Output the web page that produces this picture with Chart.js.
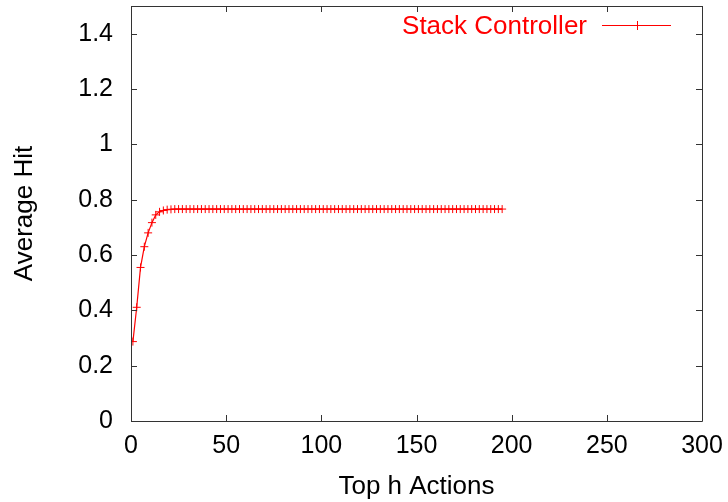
<!DOCTYPE html>
<html>
<head>
<meta charset="utf-8">
<script src="https://cdn.jsdelivr.net/npm/chart.js@4/dist/chart.umd.min.js"></script>
<style>
  html, body { margin: 0; padding: 0; background: #fff; }
  #wrap { width: 728px; height: 502px; }
</style>
</head>
<body>
<div id="wrap"><canvas id="hitChart" width="728" height="502"></canvas></div>
<script>
const FONT = "'Liberation Sans', Arial, Helvetica, sans-serif";
const RED = "#ff0000";

const seriesName = "Stack Controller";
const xTitle = "Top h Actions";
const yTitle = "Average Hit";

// h values (odd steps)
const hValues = [
  1, 3, 5, 7, 9, 11, 13, 15, 17, 19, 21, 23, 25, 27, 29, 31, 33, 35, 37, 39,
  41, 43, 45, 47, 49, 51, 53, 55, 57, 59, 61, 63, 65, 67, 69, 71, 73, 75, 77, 79,
  81, 83, 85, 87, 89, 91, 93, 95, 97, 99, 101, 103, 105, 107, 109, 111, 113, 115, 117, 119,
  121, 123, 125, 127, 129, 131, 133, 135, 137, 139, 141, 143, 145, 147, 149, 151, 153, 155, 157, 159,
  161, 163, 165, 167, 169, 171, 173, 175, 177, 179, 181, 183, 185, 187, 189, 191, 193, 195
];

const avgHit = [
  0.287, 0.411, 0.555, 0.630, 0.680, 0.717, 0.745, 0.756, 0.761, 0.764, 0.765, 0.766, 0.766, 0.766, 0.766, 0.766, 0.766, 0.766, 0.766, 0.766,
  0.766, 0.766, 0.766, 0.766, 0.766, 0.766, 0.766, 0.766, 0.766, 0.766, 0.766, 0.766, 0.766, 0.766, 0.766, 0.766, 0.766, 0.766, 0.766, 0.766,
  0.766, 0.766, 0.766, 0.766, 0.766, 0.766, 0.766, 0.766, 0.766, 0.766, 0.766, 0.766, 0.766, 0.766, 0.766, 0.766, 0.766, 0.766, 0.766, 0.766,
  0.766, 0.766, 0.766, 0.766, 0.766, 0.766, 0.766, 0.766, 0.766, 0.766, 0.766, 0.766, 0.766, 0.766, 0.766, 0.766, 0.766, 0.766, 0.766, 0.766,
  0.766, 0.766, 0.766, 0.766, 0.766, 0.766, 0.766, 0.766, 0.766, 0.766, 0.766, 0.766, 0.766, 0.766, 0.766, 0.766, 0.766, 0.766
];

const xTicks = [0, 50, 100, 150, 200, 250, 300];
const yTicks = [0, 0.2, 0.4, 0.6, 0.8, 1, 1.2, 1.4];

// frame + inward ticks on all four sides, gnuplot style
const framePlugin = {
  id: "frame",
  afterDraw(chart) {
    const { ctx, chartArea: a, scales } = chart;
    const len = 6;
    ctx.save();
    ctx.strokeStyle = "#333";
    ctx.lineWidth = 1;
    ctx.beginPath();
    ctx.rect(a.left + 0.5, a.top + 0.5, a.right - a.left, a.bottom - a.top);
    xTicks.forEach((v) => {
      const px = Math.round(scales.x.getPixelForValue(v)) + 0.5;
      ctx.moveTo(px, a.bottom); ctx.lineTo(px, a.bottom - len);
      ctx.moveTo(px, a.top); ctx.lineTo(px, a.top + len);
    });
    yTicks.forEach((v) => {
      const py = Math.round(scales.y.getPixelForValue(v)) + 0.5;
      ctx.moveTo(a.left, py); ctx.lineTo(a.left + len, py);
      ctx.moveTo(a.right, py); ctx.lineTo(a.right - len, py);
    });
    ctx.stroke();
    ctx.beginPath();
    ctx.restore();
  },
};

// key in the top right corner: label, then line sample with a cross
const keyPlugin = {
  id: "key",
  afterDraw(chart) {
    const { ctx, chartArea: a } = chart;
    const y = Math.round(a.top + 19) + 0.5;
    const x1 = a.right - 100, x2 = a.right - 31;
    const cx = Math.round((x1 + x2) / 2) + 0.5;
    ctx.save();
    ctx.font = "26px " + FONT;
    ctx.textAlign = "right";
    ctx.textBaseline = "alphabetic";
    ctx.fillStyle = RED;
    ctx.fillText(seriesName, x1 - 15, y + 8);
    ctx.beginPath();
    ctx.moveTo(x1, y); ctx.lineTo(x2, y);
    ctx.moveTo(cx, y - 4.5); ctx.lineTo(cx, y + 4.5);
    ctx.lineWidth = 1;
    ctx.strokeStyle = RED;
    ctx.stroke();
    ctx.restore();
  },
};

new Chart(document.getElementById("hitChart"), {
  type: "line",
  data: {
    datasets: [{
      label: seriesName,
      data: hValues.map((h, i) => ({ x: h, y: avgHit[i] })),
      borderColor: RED,
      backgroundColor: RED,
      borderWidth: 1.2,
      pointStyle: "cross",
      pointRadius: 4,
      pointBorderWidth: 1,
      pointHoverRadius: 4,
      tension: 0,
      fill: false,
    }],
  },
  options: {
    responsive: false,
    animation: false,
    layout: { padding: { left: 0, top: 6, right: 26, bottom: 0 } },
    plugins: { legend: { display: false }, tooltip: { enabled: false } },
    scales: {
      x: {
        type: "linear",
        min: 0, max: 300,
        afterBuildTicks: (s) => { s.ticks = xTicks.map((v) => ({ value: v })); },
        afterFit: (s) => { s.height = 81; s.paddingLeft = 0; s.paddingRight = 0; },
        grid: { display: false, drawTicks: false },
        border: { display: false },
        ticks: { color: "#000", padding: 10, maxRotation: 0, font: { family: FONT, size: 25 } },
        title: { display: true, text: xTitle, color: "#000", padding: { top: -2, bottom: 0 }, font: { family: FONT, size: 26 } },
      },
      y: {
        type: "linear",
        min: 0, max: 1.5,
        afterBuildTicks: (s) => { s.ticks = yTicks.map((v) => ({ value: v })); },
        afterFit: (s) => { s.width = 131; s.paddingTop = 0; s.paddingBottom = 0; },
        grid: { display: false, drawTicks: false },
        border: { display: false },
        ticks: {
          color: "#000", padding: 18, font: { family: FONT, size: 25 },
          callback: (v) => String(+Number(v).toFixed(1)),
        },
        title: { display: true, text: yTitle, color: "#000", padding: { top: 9, bottom: 0 }, font: { family: FONT, size: 26 } },
      },
    },
  },
  plugins: [framePlugin, keyPlugin],
});
</script>
</body>
</html>
